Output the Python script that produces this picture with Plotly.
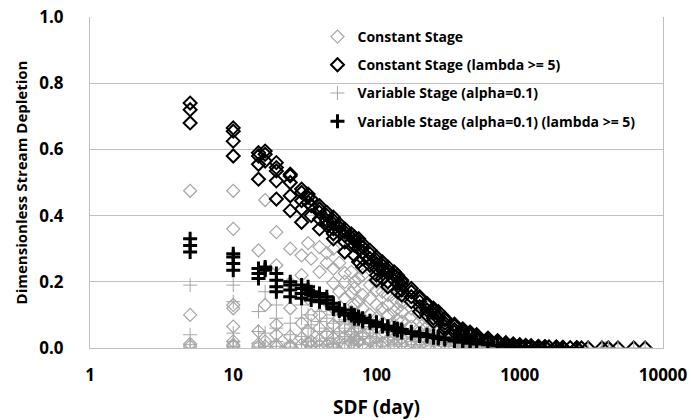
import plotly.graph_objects as go

# Constant Stage (all cases) - SDF (day) -> depletion values
cs = {
    5: [0.475, 0.10, 0.012, 0.005],
    10: [0.475, 0.36, 0.13, 0.12, 0.065, 0.02, 0.01, 0.005],
    15: [0.295, 0.05, 0.012, 0.004],
    16.7: [0.447, 0.13, 0.02, 0.005],
    20: [0.35, 0.25, 0.07, 0.04, 0.01, 0.003],
    25: [0.30, 0.196, 0.12, 0.035, 0.008, 0.002],
    30: [0.28, 0.22, 0.075, 0.03, 0.01],
    33.3: [0.317, 0.15, 0.05, 0.015],
    35: [0.27, 0.10, 0.02, 0.005],
    40: [0.305, 0.23, 0.10, 0.06, 0.025, 0.008],
    45: [0.287, 0.257, 0.14, 0.04, 0.01],
    50: [0.30, 0.24, 0.196, 0.12, 0.07, 0.03, 0.01, 0.003],
    55: [0.257, 0.17, 0.09, 0.02],
    60: [0.226, 0.20, 0.15, 0.06, 0.035, 0.012],
    66.7: [0.23, 0.166, 0.11, 0.045, 0.015],
    70: [0.20, 0.18, 0.13, 0.08, 0.03, 0.008],
    75: [0.21, 0.14, 0.06, 0.02],
    80: [0.22, 0.16, 0.12, 0.09, 0.04, 0.01],
    90: [0.19, 0.15, 0.10, 0.05, 0.02],
    100: [0.20, 0.175, 0.13, 0.09, 0.06, 0.03, 0.012, 0.004],
    110: [0.17, 0.12, 0.075, 0.04, 0.015],
    120: [0.16, 0.13, 0.10, 0.06, 0.025],
    133: [0.15, 0.11, 0.07, 0.03, 0.01],
    140: [0.14, 0.12, 0.085, 0.05],
    150: [0.14, 0.11, 0.08, 0.055, 0.03, 0.012],
    175: [0.12, 0.095, 0.065, 0.04, 0.018],
    200: [0.10, 0.08, 0.06, 0.04, 0.02, 0.008],
    225: [0.09, 0.065, 0.045, 0.025, 0.01],
    250: [0.075, 0.06, 0.04, 0.022],
    270: [0.065, 0.05, 0.03, 0.012],
    300: [0.055, 0.04, 0.025, 0.01],
    350: [0.042, 0.03, 0.018],
    400: [0.03, 0.022, 0.012, 0.005],
    450: [0.024, 0.015, 0.008],
    500: [0.018, 0.012, 0.006],
    600: [0.012, 0.007, 0.003],
    700: [0.008, 0.004],
    800: [0.005, 0.002],
    1000: [0.003, 0.001],
    1200: [0.002],
    1500: [0.001],
    2000: [0.0],
    2500: [0.0],
    3000: [0.0],
    4000: [0.0],
}

# Constant Stage (lambda >= 5)
cs_lam = {
    5: [0.74, 0.72, 0.68],
    10: [0.665, 0.655, 0.625, 0.58],
    15: [0.59, 0.58, 0.555, 0.51],
    16.7: [0.595, 0.585, 0.565],
    20: [0.56, 0.545, 0.535, 0.505, 0.45],
    25: [0.525, 0.52, 0.50, 0.46, 0.415],
    30: [0.48, 0.47, 0.445, 0.42, 0.38],
    33.3: [0.465, 0.455, 0.44],
    35: [0.45, 0.43, 0.40],
    40: [0.43, 0.42, 0.41, 0.39, 0.36],
    45: [0.41, 0.40, 0.385, 0.37],
    50: [0.395, 0.385, 0.375, 0.36, 0.345, 0.33],
    55: [0.375, 0.365, 0.35],
    60: [0.36, 0.35, 0.34, 0.32, 0.29],
    66.7: [0.345, 0.335, 0.32],
    70: [0.335, 0.325, 0.31, 0.28],
    75: [0.33, 0.315, 0.30, 0.26],
    80: [0.315, 0.305, 0.29, 0.27, 0.245],
    90: [0.295, 0.285, 0.27, 0.25],
    100: [0.275, 0.265, 0.255, 0.24, 0.22, 0.205],
    110: [0.26, 0.25, 0.235, 0.21],
    120: [0.245, 0.235, 0.225, 0.20, 0.185],
    133: [0.23, 0.22, 0.205],
    140: [0.22, 0.21, 0.195, 0.17],
    150: [0.205, 0.20, 0.19, 0.175, 0.16],
    175: [0.18, 0.17, 0.155, 0.14],
    200: [0.155, 0.15, 0.14, 0.125, 0.11],
    225: [0.135, 0.13, 0.115, 0.10],
    250: [0.12, 0.115, 0.105, 0.09, 0.08],
    270: [0.11, 0.10, 0.09],
    300: [0.09, 0.085, 0.075, 0.065, 0.055],
    350: [0.072, 0.066, 0.056, 0.048],
    400: [0.058, 0.052, 0.045, 0.038, 0.032],
    450: [0.048, 0.043, 0.036],
    500: [0.04, 0.035, 0.029, 0.024],
    600: [0.03, 0.026, 0.02, 0.016],
    700: [0.022, 0.018, 0.014],
    800: [0.016, 0.013, 0.01],
    900: [0.012, 0.01, 0.007],
    1000: [0.01, 0.008, 0.005],
    1100: [0.008, 0.006],
    1200: [0.007, 0.005],
    1350: [0.005, 0.004],
    1500: [0.004, 0.003],
    1600: [0.003],
    1800: [0.003, 0.002],
    2000: [0.002, 0.001],
    2250: [0.001],
    2500: [0.001, 0.0],
    2700: [0.0],
    3000: [0.0],
    3750: [0.0],
    4150: [0.0],
    4850: [0.0],
    6250: [0.0],
    7500: [0.0],
}

# Variable Stage (alpha=0.1)
vs = {
    5: [0.19, 0.04, 0.01, 0.0],
    10: [0.19, 0.14, 0.045, 0.02, 0.005, 0.0],
    15: [0.11, 0.05, 0.015, 0.003],
    16.7: [0.17, 0.045, 0.005],
    20: [0.13, 0.09, 0.06, 0.02, 0.005],
    25: [0.075, 0.04, 0.015, 0.003],
    30: [0.13, 0.09, 0.035, 0.01],
    33.3: [0.10, 0.06, 0.02],
    35: [0.07, 0.03, 0.005],
    40: [0.11, 0.08, 0.05, 0.02, 0.006],
    45: [0.09, 0.06, 0.03, 0.01],
    50: [0.10, 0.075, 0.05, 0.03, 0.012, 0.003],
    55: [0.08, 0.045, 0.015],
    60: [0.085, 0.06, 0.035, 0.015],
    66.7: [0.07, 0.04, 0.02],
    70: [0.075, 0.05, 0.025, 0.008],
    75: [0.06, 0.035, 0.012],
    80: [0.065, 0.045, 0.028, 0.01],
    90: [0.055, 0.035, 0.015],
    100: [0.06, 0.045, 0.03, 0.018, 0.006],
    120: [0.048, 0.032, 0.018, 0.006],
    133: [0.04, 0.025, 0.01],
    150: [0.04, 0.028, 0.015, 0.005],
    175: [0.033, 0.02, 0.01],
    200: [0.03, 0.02, 0.01, 0.003],
    250: [0.022, 0.014, 0.006],
    300: [0.017, 0.01, 0.004],
    350: [0.013, 0.007],
    400: [0.01, 0.005, 0.002],
    500: [0.007, 0.003],
    600: [0.005, 0.002],
    700: [0.003],
    800: [0.002],
    1000: [0.001],
    1200: [0.0],
    1500: [0.0],
    2000: [0.0],
    2500: [0.0],
    3000: [0.0],
    3750: [0.0],
    4150: [0.0],
    4850: [0.0],
    6250: [0.0],
    7500: [0.0],
}

# Variable Stage (alpha=0.1) (lambda >= 5)
vs_lam = {
    5: [0.33, 0.31, 0.29],
    10: [0.285, 0.275, 0.255, 0.235],
    15: [0.24, 0.225, 0.21],
    16.7: [0.245, 0.24, 0.235],
    20: [0.225, 0.205, 0.185, 0.17],
    25: [0.20, 0.19, 0.175, 0.155],
    30: [0.19, 0.18, 0.165, 0.15],
    33.3: [0.185, 0.175],
    35: [0.17, 0.16, 0.145],
    40: [0.165, 0.155, 0.14],
    45: [0.155, 0.145, 0.135],
    50: [0.135, 0.125, 0.118],
    55: [0.12, 0.112],
    60: [0.115, 0.105, 0.10],
    66.7: [0.105, 0.098],
    70: [0.10, 0.094, 0.088],
    75: [0.095, 0.088],
    80: [0.09, 0.085, 0.08],
    90: [0.082, 0.076],
    100: [0.078, 0.072, 0.066],
    110: [0.07, 0.065],
    120: [0.066, 0.061, 0.057],
    133: [0.061, 0.056],
    140: [0.058, 0.053],
    150: [0.056, 0.051, 0.047],
    175: [0.049, 0.044],
    200: [0.044, 0.04, 0.036],
    225: [0.04, 0.035],
    250: [0.036, 0.031],
    270: [0.033, 0.029],
    300: [0.03, 0.026],
    350: [0.025, 0.021],
    400: [0.021, 0.017],
    450: [0.018, 0.014],
    500: [0.015, 0.012],
    600: [0.012, 0.01],
    700: [0.009, 0.007],
    800: [0.007, 0.005],
    900: [0.006, 0.004],
    1000: [0.005, 0.003],
    1100: [0.004],
    1200: [0.003, 0.002],
    1350: [0.002],
    1500: [0.002, 0.001],
    1800: [0.001],
    2000: [0.001],
    2500: [0.0],
}

x_ticks = [1, 10, 100, 1000, 10000]
y_ticks = [0.0, 0.2, 0.4, 0.6, 0.8, 1.0]

GRAY = '#a6a6a6'
FONT = 'Open Sans'


def flat(d):
    xs, ys = [], []
    for k, vals in d.items():
        for v in vals:
            xs.append(k)
            ys.append(v)
    return xs, ys


series = [
    ('Constant Stage', cs, 'diamond-open', GRAY, 10, 1.2),
    ('Constant Stage (lambda >= 5)', cs_lam, 'diamond-open', 'black', 10, 2),
    ('Variable Stage (alpha=0.1)', vs, 'cross-thin-open', GRAY, 10, 1),
    ('Variable Stage (alpha=0.1) (lambda >= 5)', vs_lam, 'cross-thin-open', 'black', 10, 3),
]

fig = go.Figure()
for i, (name, d, sym, col, sz, lw) in enumerate(series):
    xs, ys = flat(d)
    fig.add_trace(go.Scatter(
        x=xs, y=ys, mode='markers', name='<b>%s</b>' % name, legendgroup='g%d' % i,
        marker=dict(symbol=sym, size=sz, color=col, line=dict(color=col, width=lw)),
    ))

fig.update_layout(
    width=691, height=420,
    margin=dict(l=90, r=28, t=17, b=72),
    plot_bgcolor='white', paper_bgcolor='white',
    font=dict(family=FONT, color='black'),
    showlegend=True,
    legend=dict(x=0.397, y=0.988, xanchor='left', yanchor='top',
                bgcolor='rgba(0,0,0,0)', tracegroupgap=7,
                font=dict(size=14, family=FONT),
                itemwidth=30),
)
fig.update_xaxes(
    type='log', range=[0, 4], tickvals=x_ticks,
    ticktext=['<b>%d</b>' % v for v in x_ticks],
    showgrid=False, zeroline=False, showline=True, linecolor='#bfbfbf', linewidth=1,
    tickfont=dict(size=17), ticklabelstandoff=12, automargin=False,
    title=dict(text='<b>SDF (day)</b>', font=dict(size=19), standoff=15),
)
fig.update_yaxes(
    range=[0, 1], tickvals=y_ticks,
    ticktext=['<b>%.1f</b>' % v for v in y_ticks],
    showgrid=True, gridcolor='#bfbfbf', gridwidth=1, zeroline=False,
    showline=True, linecolor='#bfbfbf', linewidth=1, mirror=True,
    tickfont=dict(size=17), ticklabelstandoff=22, automargin=False,
    title=dict(text='<b>Dimensionless Stream Depletion</b>', font=dict(size=15), standoff=8),
)

fig.write_html('out.html', config={'displayModeBar': False},
               post_script="document.body.style.margin='0';")
